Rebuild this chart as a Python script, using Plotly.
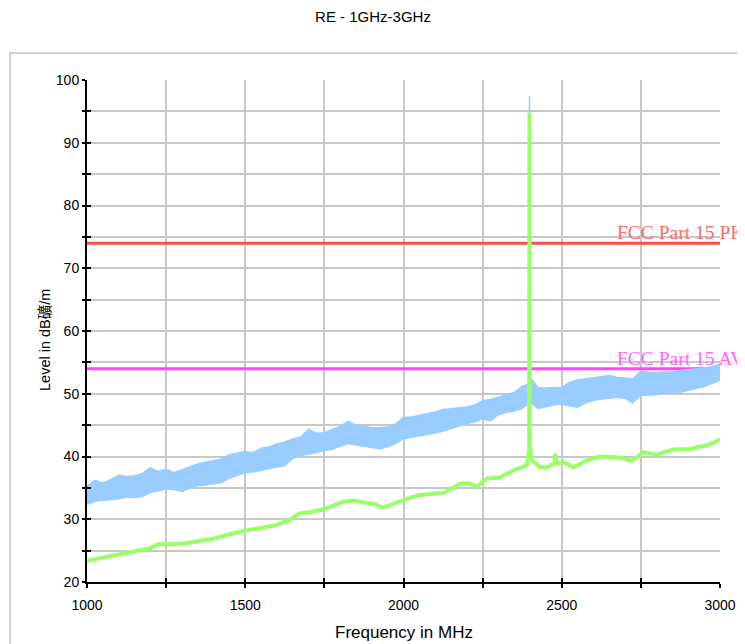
import plotly.graph_objs as go

# ---- data ----
# peak trace (blue) drawn as a dense noise band: upper / lower envelope
pk_freq = [1000, 1025, 1050, 1075, 1100, 1125, 1150, 1175, 1200, 1225,
           1250, 1275, 1300, 1325, 1350, 1375, 1400, 1425, 1450, 1475,
           1500, 1525, 1550, 1575, 1600, 1625, 1650, 1675, 1700, 1725,
           1750, 1775, 1800, 1825, 1850, 1875, 1900, 1925, 1950, 1975,
           2000, 2025, 2050, 2075, 2100, 2125, 2150, 2175, 2200, 2225,
           2250, 2275, 2300, 2325, 2350, 2375, 2397, 2398, 2399, 2400, 2401,
           2425, 2450, 2475, 2500, 2525, 2550, 2575, 2600, 2625, 2650,
           2675, 2700, 2725, 2750, 2775, 2800, 2825, 2850, 2875, 2900,
           2925, 2950, 2975, 3000]
pk_hi = [35.2, 36.2, 35.8, 36.3, 37.0, 36.8, 36.9, 37.3, 38.2, 37.6,
         38.0, 37.4, 37.9, 38.4, 38.8, 39.1, 39.3, 39.6, 40.3, 40.5,
         40.8, 40.6, 41.3, 41.5, 42.0, 42.3, 42.8, 43.1, 44.3, 43.7,
         43.8, 44.3, 44.8, 45.6, 45.0, 44.8, 44.6, 44.6, 44.7, 45.2,
         46.2, 46.3, 46.5, 46.8, 47.1, 47.5, 47.6, 47.7, 47.9, 48.2,
         48.9, 49.1, 49.5, 49.9, 50.2, 51.2, 51.5, 97.4, 55.0, 93.6, 52.5,
         51.0, 50.9, 51.0, 51.0, 51.8, 52.2, 52.4, 52.6, 52.8, 52.9,
         52.6, 52.5, 52.4, 53.6, 53.4, 53.4, 53.4, 53.5, 53.7, 53.8,
         53.9, 54.1, 54.3, 54.7]
pk_lo = [32.3, 32.8, 33.0, 33.1, 33.2, 33.5, 33.4, 33.6, 34.2, 34.5,
         34.8, 34.7, 34.4, 34.9, 35.3, 35.4, 35.6, 35.8, 36.5, 36.9,
         37.4, 37.5, 37.8, 38.0, 38.3, 38.5, 39.6, 40.1, 40.3, 40.6,
         40.9, 41.1, 41.6, 42.0, 41.8, 41.6, 41.3, 41.2, 41.5, 42.0,
         42.8, 43.0, 43.3, 43.5, 43.7, 44.0, 44.4, 44.9, 45.2, 45.5,
         46.0, 45.6, 46.6, 47.0, 47.2, 47.6, 48.5, 48.5, 48.5, 48.5, 48.5,
         47.6, 47.9, 48.2, 48.3, 48.1, 47.8, 48.5, 48.9, 49.1, 49.3,
         49.4, 49.2, 48.5, 49.7, 49.8, 49.8, 50.1, 50.2, 50.2, 50.5,
         50.8, 51.1, 51.6, 52.1]

# average trace (green)
av_freq = [1000, 1050, 1100, 1150, 1200, 1225, 1250, 1300, 1350, 1400,
           1450, 1500, 1550, 1600, 1640, 1670, 1700, 1750, 1780, 1810,
           1840, 1880, 1910, 1935, 1965, 2000, 2043, 2096, 2127, 2180,
           2211, 2232, 2264, 2306, 2348, 2390, 2397, 2398, 2399, 2405,
           2432, 2453, 2477, 2480, 2483, 2506, 2537, 2580, 2621, 2674,
           2721, 2758, 2800, 2853, 2905, 2958, 2985, 3000]
av_level = [23.4, 23.9, 24.3, 24.8, 25.4, 26.0, 26.0, 26.1, 26.5, 26.9,
            27.6, 28.2, 28.6, 29.1, 29.9, 30.9, 31.1, 31.6, 32.2, 32.8,
            33.0, 32.6, 32.4, 31.9, 32.4, 33.1, 33.8, 34.1, 34.2, 35.7,
            35.7, 35.2, 36.5, 36.7, 37.8, 38.6, 41.0, 94.8, 42.0, 39.5,
            38.3, 38.3, 38.9, 40.5, 38.9, 39.1, 38.3, 39.4, 40.0, 39.9,
            39.3, 40.7, 40.3, 41.1, 41.2, 41.8, 42.3, 42.8]

# limit lines
limit_freq = [1000, 3000]
limit_pk = [74, 74]
limit_av = [54, 54]

x_ticks = [1000, 1500, 2000, 2500, 3000]
y_ticks = [20, 30, 40, 50, 60, 70, 80, 90, 100]

BLUE = "#99ccff"
GREEN = "#99ff66"
RED = "#ff4d4d"
MAGENTA = "#ff44ff"
GRID = "#c8c8c8"
FONT = "Arial, Liberation Sans, Noto Sans CJK SC, sans-serif"

# the page puts the figure 8px in from the top-left corner
OFF = 8
PW, PH = 633, 502          # plot area in pixels
PX0, PY1 = 87, 582         # plot left / bottom in window pixels

fig = go.Figure()

# limit lines under the traces
fig.add_trace(go.Scatter(x=limit_freq, y=limit_pk, mode="lines",
                         line=dict(color=RED, width=3), showlegend=False, hoverinfo="skip"))
fig.add_trace(go.Scatter(x=limit_freq, y=limit_av, mode="lines",
                         line=dict(color=MAGENTA, width=3), showlegend=False, hoverinfo="skip"))

# peak noise band
fig.add_trace(go.Scatter(x=pk_freq, y=pk_lo, mode="lines",
                         line=dict(color=BLUE, width=1), showlegend=False, hoverinfo="skip"))
fig.add_trace(go.Scatter(x=pk_freq, y=pk_hi, mode="lines", fill="tonexty", fillcolor=BLUE,
                         line=dict(color=BLUE, width=1.5), showlegend=False, hoverinfo="skip"))

# average trace
fig.add_trace(go.Scatter(x=av_freq, y=av_level, mode="lines",
                         line=dict(color=GREEN, width=4), showlegend=False, hoverinfo="skip"))

# ghost axes so the ticks cross the axis lines
fig.add_trace(go.Scatter(x=[None], y=[None], xaxis="x2", yaxis="y2", showlegend=False))

fig.update_layout(
    width=745, height=644,
    margin=dict(l=PX0 - OFF, r=745 + OFF - (PX0 + PW), t=PY1 - PH - OFF, b=644 + OFF - PY1),
    paper_bgcolor="white", plot_bgcolor="white",
    font=dict(family=FONT, color="black", size=14),
    title=dict(text="RE - 1GHz-3GHz", x=(373 - OFF) / 745, xanchor="center",
               y=1 - (17 - OFF) / 644, yanchor="middle", font=dict(size=15)),
    xaxis=dict(range=[1000, 3000], tickvals=x_ticks, showline=True, linecolor="black",
               linewidth=2, ticks="outside", ticklen=4, tickwidth=1.5, tickcolor="black",
               showgrid=True, gridcolor=GRID, gridwidth=1.5, zeroline=False,
               ticklabelstandoff=5,
               minor=dict(dtick=250, tick0=1000, ticks="outside", ticklen=4, tickwidth=1.5,
                          tickcolor="black", showgrid=True, gridcolor=GRID, gridwidth=1.5),
               tickfont=dict(size=14)),
    yaxis=dict(range=[20, 100], tickvals=y_ticks, showline=True, linecolor="black",
               linewidth=2, ticks="outside", ticklen=3, tickwidth=1.5, tickcolor="black",
               showgrid=True, gridcolor=GRID, gridwidth=1.5, zeroline=False,
               ticklabelstandoff=0,
               minor=dict(dtick=5, tick0=20, ticks="outside", ticklen=3, tickwidth=1.5,
                          tickcolor="black", showgrid=True, gridcolor=GRID, gridwidth=1.5),
               tickfont=dict(size=14)),
    xaxis2=dict(range=[1000, 3000], overlaying="x", anchor="y", side="bottom",
                tickvals=x_ticks, ticks="inside", ticklen=4, tickwidth=1.5, tickcolor="black",
                showticklabels=False, showgrid=False, zeroline=False,
                minor=dict(dtick=250, tick0=1000, ticks="inside", ticklen=4, tickwidth=1.5,
                           tickcolor="black")),
    yaxis2=dict(range=[20, 100], overlaying="y", anchor="x", side="left",
                tickvals=y_ticks, ticks="inside", ticklen=4, tickwidth=1.5, tickcolor="black",
                showticklabels=False, showgrid=False, zeroline=False,
                minor=dict(dtick=5, tick0=20, ticks="inside", ticklen=4, tickwidth=1.5,
                           tickcolor="black")),
    shapes=[dict(type="rect", xref="paper", yref="paper",
                 x0=(10 - PX0) / PW, x1=(770 - PX0) / PW,
                 y0=(PY1 - 670) / PH, y1=(PY1 - 53) / PH,
                 line=dict(color="#d0d0d0", width=2), layer="below")],
)

# axis titles
fig.add_annotation(text="Level in dB礦/m", xref="paper", yref="paper",
                   x=(45 - PX0) / PW, y=(PY1 - 340) / PH, textangle=-90,
                   showarrow=False, font=dict(size=14.5), xanchor="center", yanchor="middle")
fig.add_annotation(text="Frequency in MHz", xref="paper", yref="paper",
                   x=(404 - PX0) / PW, y=(PY1 - 632) / PH, showarrow=False,
                   font=dict(size=17), xanchor="center", yanchor="middle")

# limit labels
fig.add_annotation(text="FCC Part 15 PK", x=2668, y=limit_pk[-1], xanchor="left",
                   yanchor="bottom", showarrow=False, yshift=-2,
                   font=dict(family="Liberation Serif, serif", size=19.5, color="#ff6a6a"))
fig.add_annotation(text="FCC Part 15 AV", x=2668, y=limit_av[-1], xanchor="left",
                   yanchor="bottom", showarrow=False, yshift=-2,
                   font=dict(family="Liberation Serif, serif", size=19.5, color="#ff66ff"))

fig.write_html("out.html")
